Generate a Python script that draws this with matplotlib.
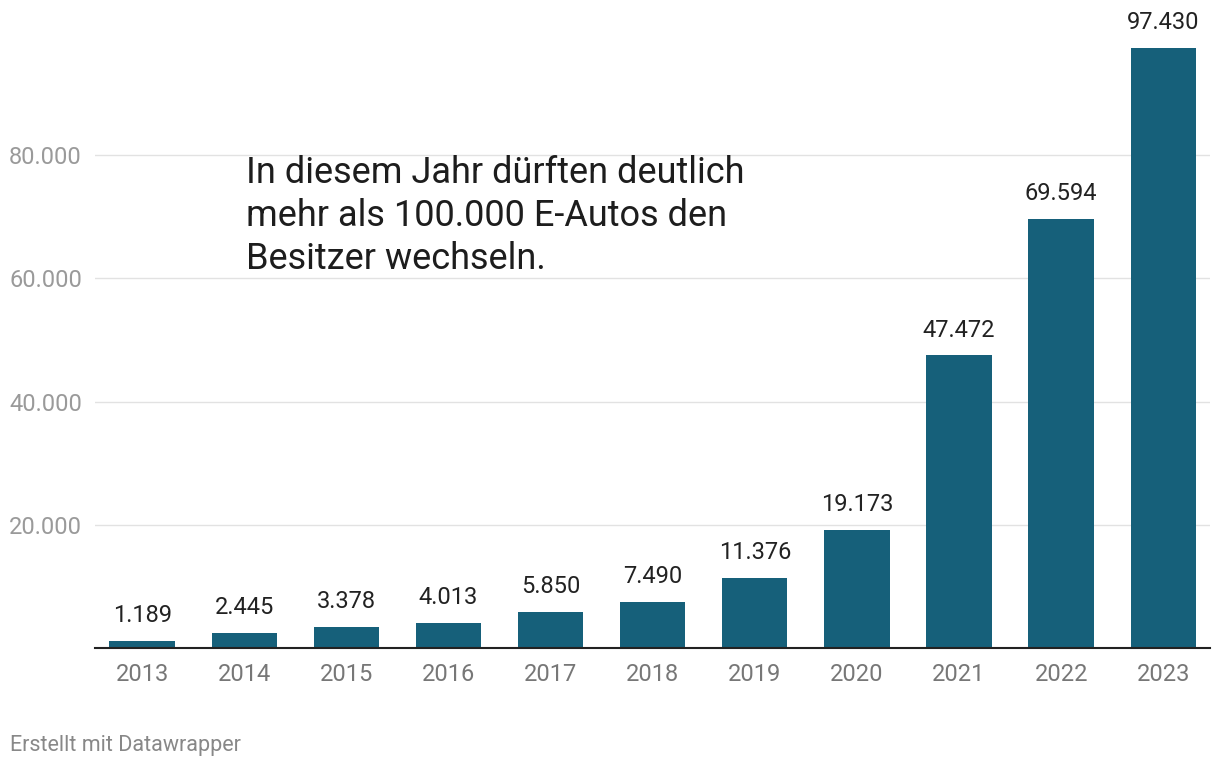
import matplotlib.pyplot as plt
from matplotlib.ticker import FuncFormatter

plt.rcParams['font.family'] = ['Roboto', 'DejaVu Sans']

years = ['2013', '2014', '2015', '2016', '2017', '2018', '2019', '2020', '2021', '2022', '2023']
values = [1189, 2445, 3378, 4013, 5850, 7490, 11376, 19173, 47472, 69594, 97430]
yticks = [20000, 40000, 60000, 80000]

bar_color = '#16607a'


def de_fmt(v, pos=None):
    return f'{int(v):,}'.replace(',', '.')


fig = plt.figure(figsize=(12.2, 7.7), dpi=100)
ax = fig.add_axes([0.078, 0.1584, 0.914, 0.8156])

x = range(len(years))
bars = ax.bar(x, values, width=0.64, color=bar_color, zorder=3)

ax.set_xlim(-0.46, len(years) - 1 + 0.46)
ax.set_ylim(0, 101900)

ax.set_yticks(yticks)
ax.yaxis.set_major_formatter(FuncFormatter(de_fmt))
ax.grid(axis='y', color='#e2e2e2', linewidth=1, zorder=0)
ax.tick_params(axis='y', length=0, pad=9.5, labelsize=17, labelcolor='#9a9a9a')

ax.set_xticks(list(x))
ax.set_xticklabels(years)
ax.tick_params(axis='x', length=0, pad=11, labelsize=17, labelcolor='#777777')

for s in ['top', 'right', 'left']:
    ax.spines[s].set_visible(False)
ax.spines['bottom'].set_color('#222222')
ax.spines['bottom'].set_linewidth(1.5)
ax.spines['bottom'].set_zorder(4)

for xi, v in zip(x, values):
    ax.annotate(de_fmt(v), (xi, v), xytext=(0, 10), textcoords='offset points',
                ha='center', va='bottom', fontsize=17, color='#222222')

fig.text(0.2016, 1 - 155 / 770,
         'In diesem Jahr dürften deutlich\nmehr als 100.000 E-Autos den\nBesitzer wechseln.',
         ha='left', va='top', fontsize=26, color='#1d1d1d', linespacing=1.25)

fig.text(10 / 1220, 1 - 746 / 770, 'Erstellt mit Datawrapper', ha='left', va='center',
         fontsize=15.5, color='#888888')

fig.savefig('out.png', dpi=100)
